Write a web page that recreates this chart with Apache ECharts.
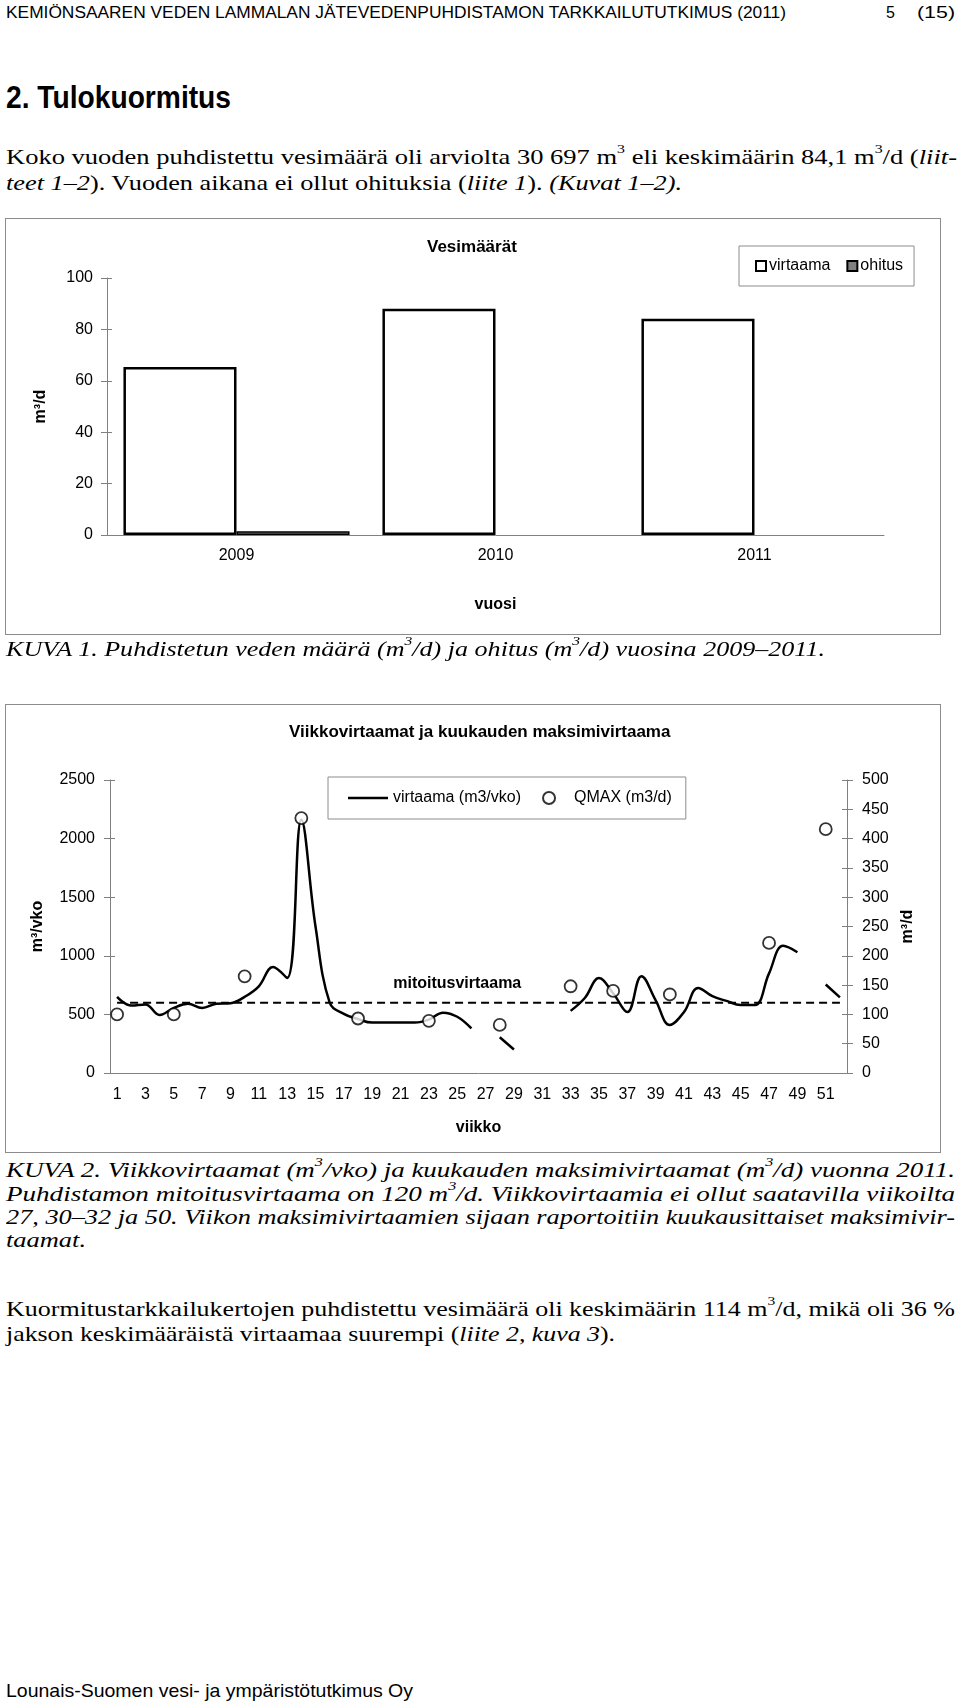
<!DOCTYPE html>
<html><head><meta charset="utf-8">
<script src="https://cdn.jsdelivr.net/npm/echarts@6/dist/echarts.min.js"></script>
<style>
html,body{margin:0;padding:0;background:#fff;}
body{width:960px;height:1704px;position:relative;overflow:hidden;}
.t{position:absolute;white-space:nowrap;line-height:1;transform-origin:0 50%;color:#000;}
.serif{font-family:"Liberation Serif","Times New Roman",serif;}
.sans{font-family:"Liberation Sans",Arial,sans-serif;}
sup{font-size:60%;vertical-align:0.8em;line-height:0;}
.box{position:absolute;border:1px solid #8c8c8c;box-sizing:border-box;}
</style></head>
<body>
<div class="t sans" data-x="6" data-cy="13" data-fs="16" data-w="780">KEMIÖNSAAREN VEDEN LAMMALAN JÄTEVEDENPUHDISTAMON TARKKAILUTUTKIMUS (2011)</div>
<div class="t sans" data-x="886" data-cy="13" data-fs="16">5</div>
<div class="t sans" data-x="917" data-cy="13" data-fs="16" data-w="38">(15)</div>
<div class="t sans" style="font-weight:bold" data-x="6" data-cy="97" data-fs="31" data-w="225">2. Tulokuormitus</div>
<div class="t serif" data-x="6" data-cy="157" data-fs="22" data-w="951">Koko vuoden puhdistettu vesimäärä oli arviolta 30 697 m<sup>3</sup> eli keskimäärin 84,1 m<sup>3</sup>/d (<i>liit-</i></div>
<div class="t serif" data-x="6" data-cy="183" data-fs="22" data-w="676"><i>teet 1–2</i>). Vuoden aikana ei ollut ohituksia (<i>liite 1</i>). <i>(Kuvat 1–2).</i></div>

<div id="c1" class="box" style="left:5px;top:218px;width:936px;height:417px;"></div>
<div class="t serif" style="font-style:italic" data-x="6" data-cy="649" data-fs="22" data-w="819">KUVA 1. Puhdistetun veden määrä (m<sup>3</sup>/d) ja ohitus (m<sup>3</sup>/d) vuosina 2009–2011.</div>

<div id="c2" class="box" style="left:5px;top:704px;width:936px;height:449px;"></div>
<div class="t serif" style="font-style:italic" data-x="6" data-cy="1170" data-fs="22" data-w="949">KUVA 2. Viikkovirtaamat (m<sup>3</sup>/vko) ja kuukauden maksimivirtaamat (m<sup>3</sup>/d) vuonna 2011.</div>
<div class="t serif" style="font-style:italic" data-x="6" data-cy="1194" data-fs="22" data-w="949">Puhdistamon mitoitusvirtaama on 120 m<sup>3</sup>/d. Viikkovirtaamia ei ollut saatavilla viikoilta</div>
<div class="t serif" style="font-style:italic" data-x="6" data-cy="1217" data-fs="22" data-w="949">27, 30–32 ja 50. Viikon maksimivirtaamien sijaan raportoitiin kuukausittaiset maksimivir-</div>
<div class="t serif" style="font-style:italic" data-x="6" data-cy="1240" data-fs="22" data-w="80">taamat.</div>
<div class="t serif" data-x="6" data-cy="1309" data-fs="22" data-w="949">Kuormitustarkkailukertojen puhdistettu vesimäärä oli keskimäärin 114 m<sup>3</sup>/d, mikä oli 36 %</div>
<div class="t serif" data-x="6" data-cy="1334" data-fs="22" data-w="609">jakson keskimääräistä virtaamaa suurempi (<i>liite 2, kuva 3</i>).</div>
<div class="t sans" data-x="6" data-cy="1690" data-fs="19" data-w="407">Lounais-Suomen vesi- ja ympäristötutkimus Oy</div>

<script>
// ---- Data: Kuva 1 ----
const years = ['2009', '2010', '2011'];
const virtaamaYear = [65.4, 88.0, 84.1];
const ohitusYear = [1.5, 0, 0];

// ---- Data: Kuva 2 ----
const weeks = ['1','2','3','4','5','6','7','8','9','10','11','12','13','14','15','16','17','18','19','20',
  '21','22','23','24','25','26','27','28','29','30','31','32','33','34','35','36','37','38','39','40',
  '41','42','43','44','45','46','47','48','49','50','51','52'];
const virtaamaWeek = [650, 575, 585, 495, 555, 590, 555, 590, 595, 650,
  740, 905, 810, 2160, 1250, 600, 505, 460, 430, 430,
  430, 430, 455, 515, 480, 380, null, 305, 200, null,
  null, null, 530, 640, 810, 680, 520, 825, 620, 410,
  520, 725, 655, 615, 580, 580, 850, 1085, 1030, null,
  755, 645];
const qmaxWeeks = ['1', '5', '10', '14', '18', '23', '28', '33', '36', '40', '47', '51'];
const qmaxValues = [100, 100, 165, 435, 93, 89, 82, 148, 140, 134, 222, 416];
const mitoitus = 120;
const mitoitusLabelWeek = '25';

const font = '"Liberation Sans", Arial, sans-serif';
const grey = '#808080';
const plain = v => String(v);

function fitText() {
  document.querySelectorAll('.t').forEach(el => {
    const fs = +el.dataset.fs, cy = +el.dataset.cy;
    el.style.fontSize = fs + 'px';
    el.style.top = (cy - fs / 2) + 'px';
    el.style.left = el.dataset.x + 'px';
    if (el.dataset.w) {
      el.style.transform = 'none';
      const w = el.getBoundingClientRect().width;
      el.style.transform = 'scaleX(' + (+el.dataset.w / w) + ')';
    }
  });
}
fitText();
if (document.fonts && document.fonts.ready) document.fonts.ready.then(fitText);

const c1 = echarts.init(document.getElementById('c1'));
c1.setOption({
  animation: false,
  textStyle: { fontFamily: font, color: '#000' },
  title: { text: 'Vesimäärät', left: 421, top: 20, padding: 0,
    textStyle: { fontSize: 17, fontWeight: 'bold', color: '#000', fontFamily: font } },
  legend: { left: 733, top: 27, itemWidth: 10, itemHeight: 10, itemGap: 16,
    padding: [12, 11, 12, 16], borderColor: '#8c8c8c', borderWidth: 1, icon: 'rect',
    textStyle: { fontSize: 16, color: '#000', fontFamily: font, padding: [0, 0, 0, -2] },
    data: ['virtaama', 'ohitus'] },
  grid: { left: 101, top: 59, width: 777, height: 257 },
  xAxis: [
    { type: 'category', data: years, name: 'vuosi', nameLocation: 'middle', nameGap: 62,
      nameTextStyle: { fontSize: 16, fontWeight: 'bold', color: '#000', fontFamily: font },
      axisLine: { lineStyle: { color: grey, width: 1 } },
      axisTick: { length: 6, lineStyle: { color: grey } },
      axisLabel: { fontSize: 16, color: '#000', margin: 13, fontFamily: font } },
    { type: 'category', data: years, position: 'bottom', axisLine: { show: false },
      axisTick: { inside: true, length: 6, lineStyle: { color: grey } }, axisLabel: { show: false } }
  ],
  yAxis: [
    { type: 'value', min: 0, max: 100, interval: 20, name: 'm³/d', nameLocation: 'middle',
      nameRotate: 90, nameGap: 58,
      nameTextStyle: { fontSize: 16, fontWeight: 'bold', color: '#000', fontFamily: font },
      axisLine: { show: true, lineStyle: { color: grey } },
      axisTick: { show: true, length: 6, lineStyle: { color: grey } },
      axisLabel: { fontSize: 16, color: '#000', margin: 14, fontFamily: font, formatter: plain },
      splitLine: { show: false } },
    { type: 'value', min: 0, max: 100, interval: 20, position: 'left', axisLine: { show: false },
      axisTick: { show: true, inside: true, length: 5, lineStyle: { color: grey } },
      axisLabel: { show: false }, splitLine: { show: false } }
  ],
  series: [
    { name: 'virtaama', type: 'bar', data: virtaamaYear, barGap: '0%', barCategoryGap: '12.7%',
      itemStyle: { color: '#fff', borderColor: '#000', borderWidth: 2.5 } },
    { name: 'ohitus', type: 'bar',
      data: ohitusYear.map(v => v > 0 ? v : { value: v, itemStyle: { borderWidth: 0 } }),
      itemStyle: { color: '#808080', borderColor: '#000', borderWidth: 1.5 } }
  ]
});

const c2 = echarts.init(document.getElementById('c2'));
c2.setOption({
  animation: false,
  textStyle: { fontFamily: font, color: '#000' },
  title: { text: 'Viikkovirtaamat ja kuukauden maksimivirtaama', left: 283, top: 19, padding: 0,
    textStyle: { fontSize: 17, fontWeight: 'bold', color: '#000', fontFamily: font } },
  legend: { left: 322, top: 72, itemWidth: 40, itemHeight: 12, itemGap: 21,
    padding: [13, 14, 13, 20], borderColor: '#8c8c8c', borderWidth: 1,
    textStyle: { fontSize: 16, color: '#000', fontFamily: font },
    data: [{ name: 'virtaama (m3/vko)', icon: 'path://M0 0H40V2.5H0Z' }, { name: 'QMAX (m3/d)' }] },
  grid: { left: 104, top: 75, width: 737, height: 293 },
  xAxis: [
    { type: 'category', data: weeks, name: 'viikko', nameLocation: 'middle', nameGap: 47,
      nameTextStyle: { fontSize: 16, fontWeight: 'bold', color: '#000', fontFamily: font },
      axisLine: { lineStyle: { color: grey } },
      axisTick: { interval: 0, length: 5, lineStyle: { color: grey } },
      axisLabel: { interval: 1, fontSize: 16, color: '#000', margin: 14, fontFamily: font } },
    { type: 'category', data: weeks, position: 'bottom', axisLine: { show: false },
      axisTick: { interval: 0, inside: true, length: 5, lineStyle: { color: grey } },
      axisLabel: { show: false } }
  ],
  yAxis: [
    { type: 'value', min: 0, max: 2500, interval: 500, position: 'left', name: 'm³/vko',
      nameLocation: 'middle', nameRotate: 90, nameGap: 64,
      nameTextStyle: { fontSize: 16, fontWeight: 'bold', color: '#000', fontFamily: font },
      axisLine: { show: true, lineStyle: { color: grey } },
      axisTick: { show: true, length: 6, lineStyle: { color: grey } },
      axisLabel: { fontSize: 16, color: '#000', margin: 15, fontFamily: font, formatter: plain },
      splitLine: { show: false } },
    { type: 'value', min: 0, max: 500, interval: 50, position: 'right', name: 'm³/d',
      nameLocation: 'middle', nameRotate: 90, nameGap: 52,
      nameTextStyle: { fontSize: 16, fontWeight: 'bold', color: '#000', fontFamily: font },
      axisLine: { show: true, lineStyle: { color: grey } },
      axisTick: { show: true, length: 6, lineStyle: { color: grey } },
      axisLabel: { fontSize: 16, color: '#000', margin: 15, fontFamily: font, formatter: plain },
      splitLine: { show: false } },
    { type: 'value', min: 0, max: 2500, interval: 500, position: 'left', axisLine: { show: false },
      axisTick: { show: true, inside: true, length: 5, lineStyle: { color: grey } },
      axisLabel: { show: false }, splitLine: { show: false } },
    { type: 'value', min: 0, max: 500, interval: 50, position: 'right', axisLine: { show: false },
      axisTick: { show: true, inside: true, length: 5, lineStyle: { color: grey } },
      axisLabel: { show: false }, splitLine: { show: false } }
  ],
  series: [
    { name: 'virtaama (m3/vko)', type: 'line', data: virtaamaWeek, smooth: 0.4, symbol: 'none',
      connectNulls: false, lineStyle: { color: '#000', width: 2.5 }, itemStyle: { color: '#000' } },
    { name: 'mitoitusvirtaama', type: 'line', yAxisIndex: 1,
      data: [[weeks[0], mitoitus], [weeks[weeks.length - 1], mitoitus]], symbol: 'none',
      lineStyle: { color: '#000', width: 2, type: [8, 5] },
      markPoint: { symbol: 'circle', symbolSize: 0,
        data: [{ coord: [mitoitusLabelWeek, mitoitus], value: 'mitoitusvirtaama' }],
        label: { show: true, position: 'top', distance: 11, formatter: 'mitoitusvirtaama',
          fontSize: 16, fontWeight: 'bold', color: '#000', fontFamily: font } } },
    { name: 'QMAX (m3/d)', type: 'scatter', yAxisIndex: 1,
      data: qmaxWeeks.map((w, i) => [w, qmaxValues[i]]), symbol: 'circle', symbolSize: 12,
      itemStyle: { color: '#fff', borderColor: '#000', borderWidth: 1.8 }, z: 5 }
  ]
});
</script>
</body></html>
